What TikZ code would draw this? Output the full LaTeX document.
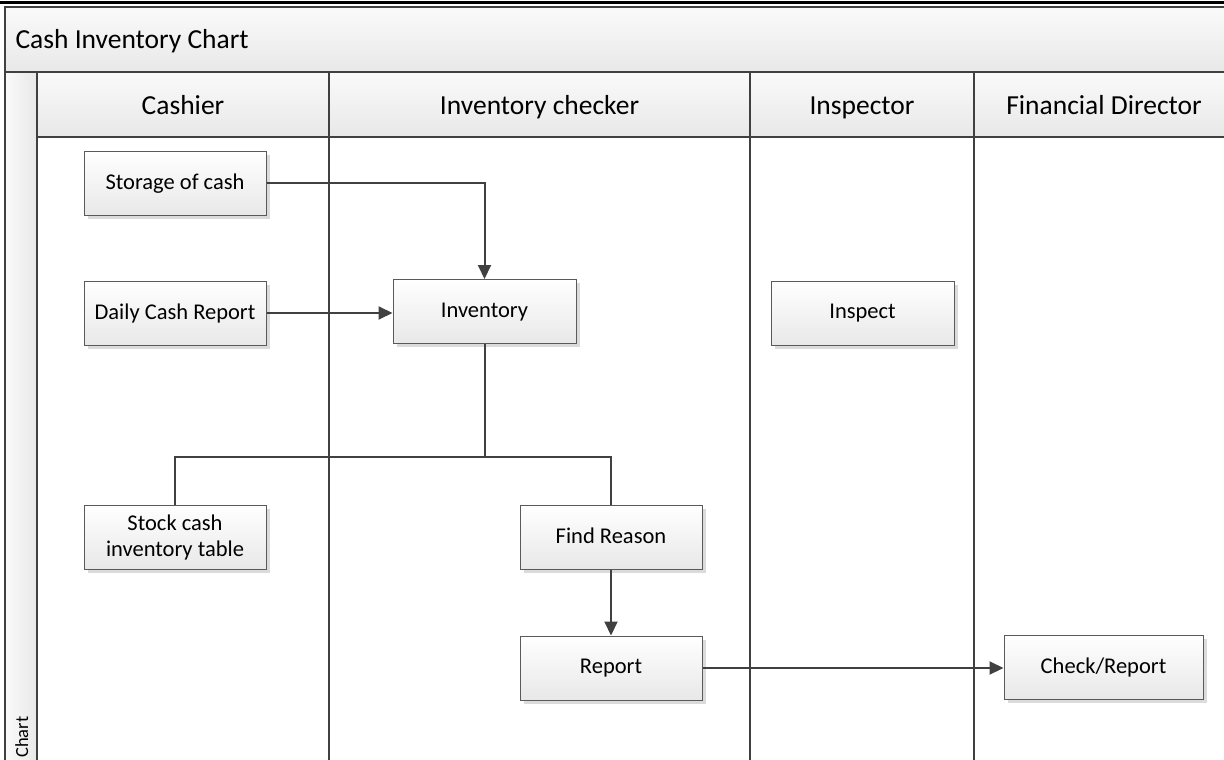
\documentclass[tikz,border=0pt]{standalone}
\usepackage{fontspec}
\setmainfont{Carlito}
\usetikzlibrary{arrows.meta}
\definecolor{linegray}{HTML}{404040}
\definecolor{boxedge}{HTML}{5A5A5A}
\definecolor{bandtop}{HTML}{FAFAFA}
\definecolor{bandbot}{HTML}{E8E8E8}
\tikzset{
  band/.style={draw=linegray, line width=1.3pt, top color=bandtop, bottom color=bandbot},
  lane/.style={draw=linegray, line width=1.3pt},
  stepbox/.style={draw=boxedge, line width=1pt, top color=white, bottom color=bandbot,
    minimum width=182pt, minimum height=64pt, inner sep=2pt, align=center,
    text depth=2.5pt,
    font=\fontsize{22.5}{26}\selectfont, text=black},
  boxshadow/.style={fill=black!14, draw=none},
  conn/.style={draw=linegray, line width=2pt},
  arr/.style={conn, -{Triangle[length=14pt,width=13pt]}},
  hdr/.style={font=\fontsize{27.5}{32}\selectfont, text=black, anchor=base}
}
\newcommand{\flowbox}[5]{%
  % name, x, y, width, text
  \fill[boxshadow] (#2-#4/2+3.5,#3-32+3.5) rectangle (#2+#4/2+3.5,#3+32+3.5);
  \node[stepbox, minimum width=#4pt] (#1) at (#2,#3) {#5};
}
\begin{document}
\begin{tikzpicture}[x=1pt,y=-1pt]
\useasboundingbox (0,0) rectangle (1224,760);
\clip (0,0) rectangle (1224,760);
\fill[white] (0,0) rectangle (1224,760);
% top rule
\draw[black, line width=3pt] (0,2.5) -- (1224,2.5);
% pool title band
\draw[band] (5,7) rectangle (1235,72);
\node[hdr, anchor=base west] (title) at (12,49) {Cash Inventory Chart};
% vertical label column
\draw[band, left color=bandtop, right color=bandbot] (5,72) rectangle (37,775);
\node[rotate=90, anchor=base west, font=\fontsize{18.5}{20}\selectfont, inner sep=0pt] (vlabel) at (28,758) {Chart};
% lane headers
\draw[band] (37,72) rectangle (329,137);
\draw[band] (329,72) rectangle (750,137);
\draw[band] (750,72) rectangle (974,137);
\draw[band] (974,72) rectangle (1235,137);
\node[hdr] (h1) at (183,114) {Cashier};
\node[hdr] (h2) at (539.5,114) {Inventory checker};
\node[hdr] (h3) at (862,114) {Inspector};
\node[hdr] (h4) at (1104,114) {Financial Director};
% lane bodies
\draw[lane] (37,137) -- (37,775);
\draw[lane] (329,137) -- (329,775);
\draw[lane] (750,137) -- (750,775);
\draw[lane] (974,137) -- (974,775);
% steps
\flowbox{storage}{175}{183}{182}{Storage of cash}
\flowbox{daily}{175}{313}{182}{Daily Cash Report}
\flowbox{inventory}{484.5}{311.5}{183}{Inventory}
\flowbox{inspect}{862.5}{313}{183}{Inspect}
\flowbox{stock}{175}{537}{182}{Stock cash\\inventory table}
\flowbox{find}{611}{537}{182}{Find Reason}
\flowbox{report}{611}{668}{182}{Report}
\flowbox{check}{1103.5}{667}{199}{Check/Report}
% connectors
\coordinate (bus) at (484.5,457);
\draw[arr] (storage.east) -| (inventory.north);
\draw[arr] (daily.east) -- (daily.east -| inventory.west);
\draw[conn] (inventory.south) -- (bus);
\draw[conn] (stock.north) |- (find.north |- bus) -- (find.north);
\draw[arr] (find.south) -- (report.north);
\draw[arr] (report.east) -- (report.east -| check.west);
\end{tikzpicture}
\end{document}
